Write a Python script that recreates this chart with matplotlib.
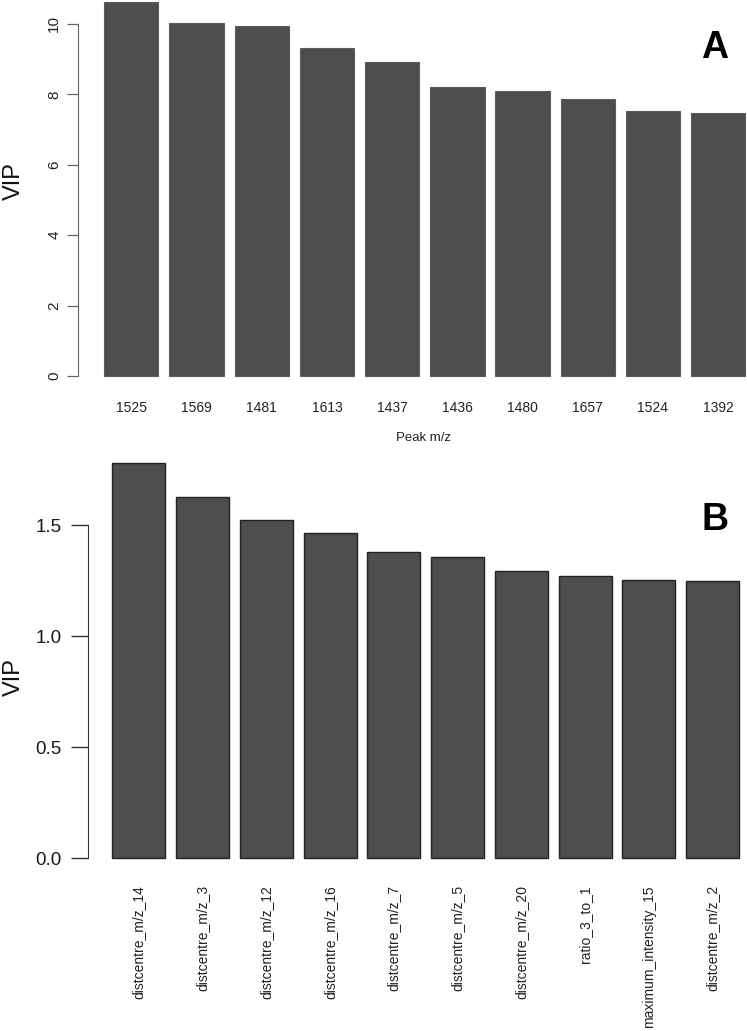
import matplotlib
matplotlib.use('Agg')
import matplotlib.pyplot as plt
import numpy as np

plt.rcParams['font.family'] = ['Liberation Sans', 'DejaVu Sans']

# Panel A: top peaks by VIP
peaks = ['1525', '1569', '1481', '1613', '1437', '1436', '1480', '1657', '1524', '1392']
vip_peaks = [10.63, 10.04, 9.95, 9.33, 8.92, 8.22, 8.10, 7.87, 7.54, 7.47]

# Panel B: top features by VIP
features = ['distcentre_m/z_14', 'distcentre_m/z_3', 'distcentre_m/z_12', 'distcentre_m/z_16',
            'distcentre_m/z_7', 'distcentre_m/z_5', 'distcentre_m/z_20', 'ratio_3_to_1',
            'maximum_intensity_15', 'distcentre_m/z_2']
vip_features = [1.782, 1.629, 1.524, 1.465, 1.380, 1.357, 1.294, 1.270, 1.255, 1.249]

W, H = 747, 1031


def box(left, bottom, right, top):
  # pixel box -> figure fraction rect
  return [left / W, 1 - bottom / H, (right - left) / W, (bottom - top) / H]


fig = plt.figure(figsize=(W / 100, H / 100), dpi=100)

# R-style barplot positions (width 1, space 0.2)
x = 0.7 + 1.2 * np.arange(len(peaks))

# ---- Panel A ----
axA = fig.add_axes(box(78, 391, 747, 0))
axA.bar(x, vip_peaks, width=1, color='#4d4d4d', edgecolor='#5c5c5c', linewidth=0.8)
axA.set_xlim(-0.28, 12.03)
axA.set_ylim(-0.425, 10.68)
for s in ['top', 'right', 'bottom']:
  axA.spines[s].set_visible(False)
axA.spines['left'].set_bounds(0, 10)
axA.spines['left'].set_color('#666666')
axA.set_yticks([0, 2, 4, 6, 8, 10])
axA.set_yticklabels(['0', '2', '4', '6', '8', '10'], rotation=90, va='center')
axA.tick_params(axis='y', length=8, width=0.9, color='#666666', pad=4, labelsize=11, labelcolor='#222222')
axA.set_xticks(x)
axA.set_xticklabels(peaks)
axA.tick_params(axis='x', length=0, pad=7, labelsize=10, labelcolor='#222222')
axA.patch.set_alpha(0)
fig.text(423 / W, 1 - 438 / H, 'Peak m/z', ha='center', va='center', fontsize=9.5, color='#222222')
fig.text(3 / W, 1 - 181 / H, 'VIP', rotation=90, ha='left', va='center', fontsize=17, color='#111111')
fig.text(715 / W, 1 - 48 / H, 'A', ha='center', va='center', fontsize=27, fontweight='bold')

# ---- Panel B ----
axB = fig.add_axes(box(88, 874, 747, 447))
axB.bar(x, vip_features, width=1, color='#4d4d4d', edgecolor='#222222', linewidth=1.0)
axB.set_xlim(-0.258, 12.148)
axB.set_ylim(-0.0707, 1.853)
for s in ['top', 'right', 'bottom']:
  axB.spines[s].set_visible(False)
axB.spines['left'].set_bounds(0, 1.5)
axB.spines['left'].set_color('#333333')
axB.set_yticks([0, 0.5, 1.0, 1.5])
axB.set_yticklabels(['0.0', '0.5', '1.0', '1.5'])
axB.tick_params(axis='y', length=12, width=1.0, color='#333333', pad=7, labelsize=13.5, labelcolor='#1a1a1a')
axB.set_xticks(x)
axB.set_xticklabels(features, rotation=90, va='top', ha='center')
axB.tick_params(axis='x', length=0, pad=8, labelsize=10, labelcolor='#222222')
axB.patch.set_alpha(0)
fig.text(3 / W, 1 - 677 / H, 'VIP', rotation=90, ha='left', va='center', fontsize=17, color='#111111')
fig.text(715 / W, 1 - 520 / H, 'B', ha='center', va='center', fontsize=27, fontweight='bold')

plt.savefig('out.png', dpi=100)
